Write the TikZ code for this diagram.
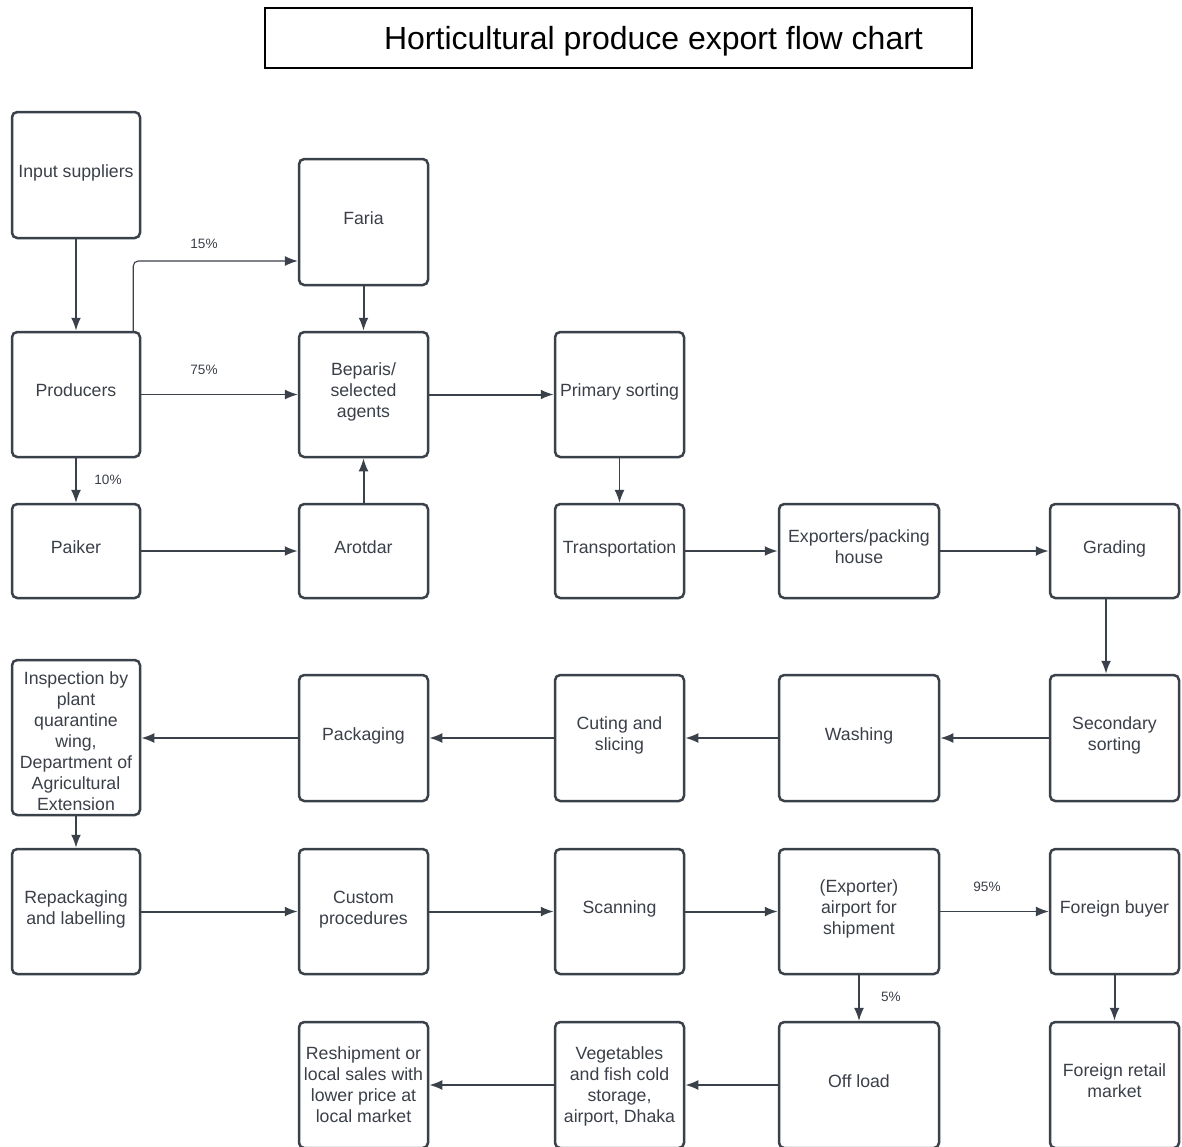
\documentclass[tikz,border=0pt]{standalone}
\usepackage{fontspec}
\setmainfont{Liberation Sans}
\usetikzlibrary{arrows.meta,calc}
\definecolor{ink}{HTML}{3A3F48}
\definecolor{edge}{HTML}{3A414A}
\newcommand\firstline[1]{\rule{0pt}{#1}}
\tikzset{
  lastd/.initial=4pt,
  box/.style={draw=edge, line width=1.25pt, rounded corners=2.6pt, text=ink, align=center,
    inner sep=1pt, font=\fontsize{8.85pt}{10.5pt}\selectfont,
    execute at end node={\rule[-\pgfkeysvalueof{/tikz/lastd}]{0pt}{0pt}}},
  bx/.style 2 args={box, minimum width=#1*0.5pt, minimum height=#2*0.5pt},
  conn/.style={draw=edge, line width=1pt, -{Latex[length=6.5pt,width=5pt]}},
  thinconn/.style={draw=edge, line width=0.55pt, -{Latex[length=6.5pt,width=5pt]}},
  pct/.style={text=ink, font=\fontsize{6.8pt}{8pt}\selectfont, inner sep=0pt},
}
\begin{document}
\begin{tikzpicture}[x=0.5pt,y=-0.5pt]
\useasboundingbox (0,0) rectangle (1182,1146);
\clip (0,0) rectangle (1182,1146);
% title
\node[draw=black, line width=0.75pt, minimum width=707*0.5pt, minimum height=60*0.5pt, inner sep=0pt] (titlebox) at (618.5,38) {};
\node[text=black, font=\fontsize{16pt}{18pt}\selectfont, inner sep=0pt] (title) at (653.5,41) {Horticultural produce export flow chart};
% row 1-2
\node[bx={128}{126}] (inp) at (76,175) {Input suppliers};
\node[bx={129}{126}] (faria) at (363.5,222) {Faria};
\node[bx={128}{125}] (prod) at (76,394.5) {Producers};
\node[bx={129}{125}] (bep) at (363.5,394.5) {Beparis/\\selected\\agents};
\node[bx={129}{125}] (prim) at (619.5,394.5) {Primary sorting};
% row 3
\node[bx={128}{94}] (paik) at (76,551) {Paiker};
\node[bx={129}{94}] (arot) at (363.5,551) {Arotdar};
\node[bx={129}{94}] (trans) at (619.5,551) {Transportation};
\node[bx={160}{94}] (expo) at (859,551) {Exporters/packing\\house};
\node[bx={129}{94}] (grad) at (1114.5,551) {Grading};
% row 4
\node[bx={128}{155}, lastd=0pt] (insp) at (76,737.5) {\firstline{9.95pt}Inspection by\\plant\\quarantine\\wing,\\Department of\\Agricultural\\Extension};
\node[bx={129}{126}] (pack) at (363.5,738) {Packaging};
\node[bx={129}{126}] (cut) at (619.5,738) {Cuting and\\slicing};
\node[bx={160}{126}] (wash) at (859,738) {Washing};
\node[bx={129}{126}] (sec) at (1114.5,738) {Secondary\\sorting};
% row 5
\node[bx={128}{125}] (repack) at (76,911.5) {Repackaging\\and labelling};
\node[bx={129}{125}] (cust) at (363.5,911.5) {Custom\\procedures};
\node[bx={129}{125}] (scan) at (619.5,911.5) {Scanning};
\node[bx={160}{125}] (air) at (859,911.5) {(Exporter)\\airport for\\shipment};
\node[bx={129}{125}] (fbuy) at (1114.5,911.5) {Foreign buyer};
% row 6 (cut off at bottom)
\node[bx={129}{126}] (resh) at (363.5,1085) {\firstline{9.95pt}Reshipment or\\local sales with\\lower price at\\local market};
\node[bx={129}{126}] (veg) at (619.5,1085) {\firstline{9.95pt}Vegetables\\and fish cold\\storage,\\airport, Dhaka};
\node[bx={160}{126}] (off) at (859,1085) {Off load};
\node[bx={129}{126}] (fret) at (1114.5,1085) {Foreign retail\\market};
% percentage labels
\node[pct] (p15) at (204,244) {15\%};
\node[pct] (p75) at (204,370) {75\%};
\node[pct] (p10) at (108,480) {10\%};
\node[pct] (p95) at (987,887) {95\%};
\node[pct] (p5) at (891,997) {5\%};
% connectors
\draw[conn] (inp) -- (prod);
\draw[thinconn, rounded corners=2.5pt] ([xshift=-4pt]prod.north east) |- ([yshift=-19.5pt]faria.west);
\draw[conn] (faria) -- (bep);
\draw[thinconn] (prod) -- (bep);
\draw[thinconn] (prod) -- (paik);
\draw[conn] (paik) -- (arot);
\draw[conn] (arot) -- (bep);
\draw[conn] (bep) -- (prim);
\draw[thinconn] (prim) -- (trans);
\draw[conn] (trans) -- (expo);
\draw[conn] (expo) -- (grad);
\draw[conn] ([xshift=-4.25pt]grad.south) -- ([xshift=-4.25pt]sec.north);
\draw[conn] (sec) -- (wash);
\draw[conn] (wash) -- (cut);
\draw[conn] (cut) -- (pack);
\draw[conn] (pack.west) -- (insp.east |- pack.west);
\draw[conn] (insp) -- (repack);
\draw[conn] (repack) -- (cust);
\draw[conn] (cust) -- (scan);
\draw[conn] (scan) -- (air);
\draw[thinconn] (air) -- (fbuy);
\draw[thinconn] (air) -- (off);
\draw[conn] (fbuy) -- (fret);
\draw[conn] (off) -- (veg);
\draw[conn] (veg) -- (resh);
\end{tikzpicture}
\end{document}
